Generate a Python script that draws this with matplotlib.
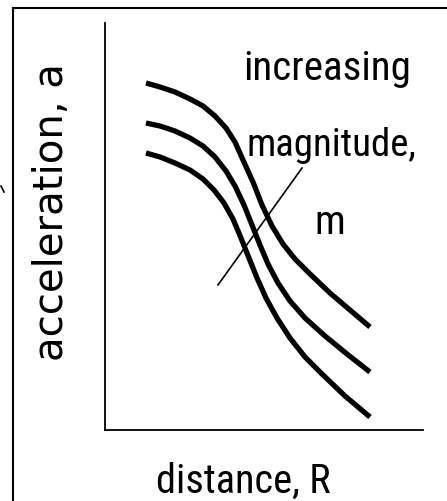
import matplotlib
matplotlib.use("Agg")
import matplotlib.pyplot as plt
from matplotlib import font_manager as fm
from matplotlib.lines import Line2D

# ---- data (arbitrary units, axis 0..10) ----
x_top = [1.289, 1.730, 2.201, 2.673, 3.082, 3.459, 3.805, 4.088, 4.340, 4.654, 4.937,
         5.252, 5.597, 5.975, 6.447, 7.075, 7.704, 8.333]
y_top = [8.526, 8.428, 8.305, 8.133, 7.961, 7.715, 7.420, 7.076, 6.634, 6.093, 5.528,
         5.012, 4.570, 4.201, 3.833, 3.366, 2.948, 2.531]

x_mid = [1.289, 1.730, 2.201, 2.673, 3.082, 3.459, 3.805, 4.088, 4.371, 4.623, 4.874,
         5.126, 5.440, 5.818, 6.289, 6.918, 7.610, 8.333]
y_mid = [7.543, 7.469, 7.346, 7.174, 6.978, 6.708, 6.364, 5.995, 5.528, 5.037, 4.545,
         4.079, 3.612, 3.170, 2.752, 2.310, 1.867, 1.425]

x_bot = [1.289, 1.730, 2.201, 2.673, 3.082, 3.428, 3.742, 4.025, 4.277, 4.528, 4.780,
         5.063, 5.409, 5.818, 6.289, 6.824, 7.547, 8.333]
y_bot = [6.806, 6.708, 6.560, 6.388, 6.167, 5.897, 5.577, 5.184, 4.717, 4.226, 3.735,
         3.243, 2.752, 2.260, 1.794, 1.376, 0.835, 0.319]

x_arrow = [3.553, 6.195]
y_arrow = [3.563, 6.437]

label_x = "distance, R"
label_y = "acceleration, a"
annot_lines = ["increasing", "magnitude,", "m"]

# ---- fonts ----
def pick_narrow():
    prefs = ['Liberation Sans Narrow', 'Arial Narrow', 'Roboto Condensed',
             'Open Sans Condensed', 'DejaVu Sans Condensed', 'Noto Sans Condensed']
    names = {f.name for f in fm.fontManager.ttflist}
    for p in prefs:
        if p in names:
            return fm.FontProperties(family=p)
    for f in fm.fontManager.ttflist:
        st = f.stretch
        cond = (isinstance(st, str) and 'condensed' in st) or (isinstance(st, int) and st < 500)
        if cond and f.style == 'normal' and f.weight in (400, 'normal', 'regular'):
            return fm.FontProperties(fname=f.fname)
    return fm.FontProperties(family='Liberation Sans')

narrow = pick_narrow()

W, H = 447, 501
fig = plt.figure(figsize=(W / 100, H / 100), dpi=100)
fig.patch.set_facecolor('white')

def fx(px):
    return px / W

def fy(py):
    return 1 - py / H

ax = fig.add_axes([fx(105), fy(430), fx(423) - fx(105), fy(23) - fy(430)])
ax.set_xlim(0, 10)
ax.set_ylim(0, 10)
for s in ['top', 'right']:
    ax.spines[s].set_visible(False)
for s in ['left', 'bottom']:
    ax.spines[s].set_linewidth(1.3)
    ax.spines[s].set_color('black')
ax.set_xticks([])
ax.set_yticks([])
ax.patch.set_alpha(0)

lw = 3.8
for xs, ys in [(x_top, y_top), (x_mid, y_mid), (x_bot, y_bot)]:
    ax.plot(xs, ys, color='black', lw=lw, solid_capstyle='butt', solid_joinstyle='round')
ax.plot(x_arrow, y_arrow, color='black', lw=1.2)

# border frame
fig.add_artist(Line2D([fx(13), fx(13)], [fy(8), 0], color='black', lw=1.5))
fig.add_artist(Line2D([fx(13), 1], [fy(8), fy(8)], color='black', lw=1.5))
# small scan mark at left edge
fig.add_artist(Line2D([fx(1), fx(4)], [fy(186), fy(192)], color='black', lw=1.2))

fp1 = narrow.copy()
fp1.set_size(29.5)
fig.text(fx(327), fy(80), annot_lines[0], fontproperties=fp1, ha='center', va='baseline')
fp2 = narrow.copy()
fp2.set_size(28)
fig.text(fx(331), fy(156), annot_lines[1], fontproperties=fp2, ha='center', va='baseline')
fig.text(fx(330), fy(234), annot_lines[2], fontproperties=fp1, ha='center', va='baseline')

fpx = narrow.copy()
fpx.set_size(29)
fig.text(fx(243), fy(493), label_x, fontproperties=fpx, ha='center', va='baseline')

fig.text(fx(52), fy(212), label_y, family='DejaVu Sans', fontsize=29, rotation=90,
         ha='center', va='center')

fig.savefig('out.png', dpi=100, facecolor='white')
